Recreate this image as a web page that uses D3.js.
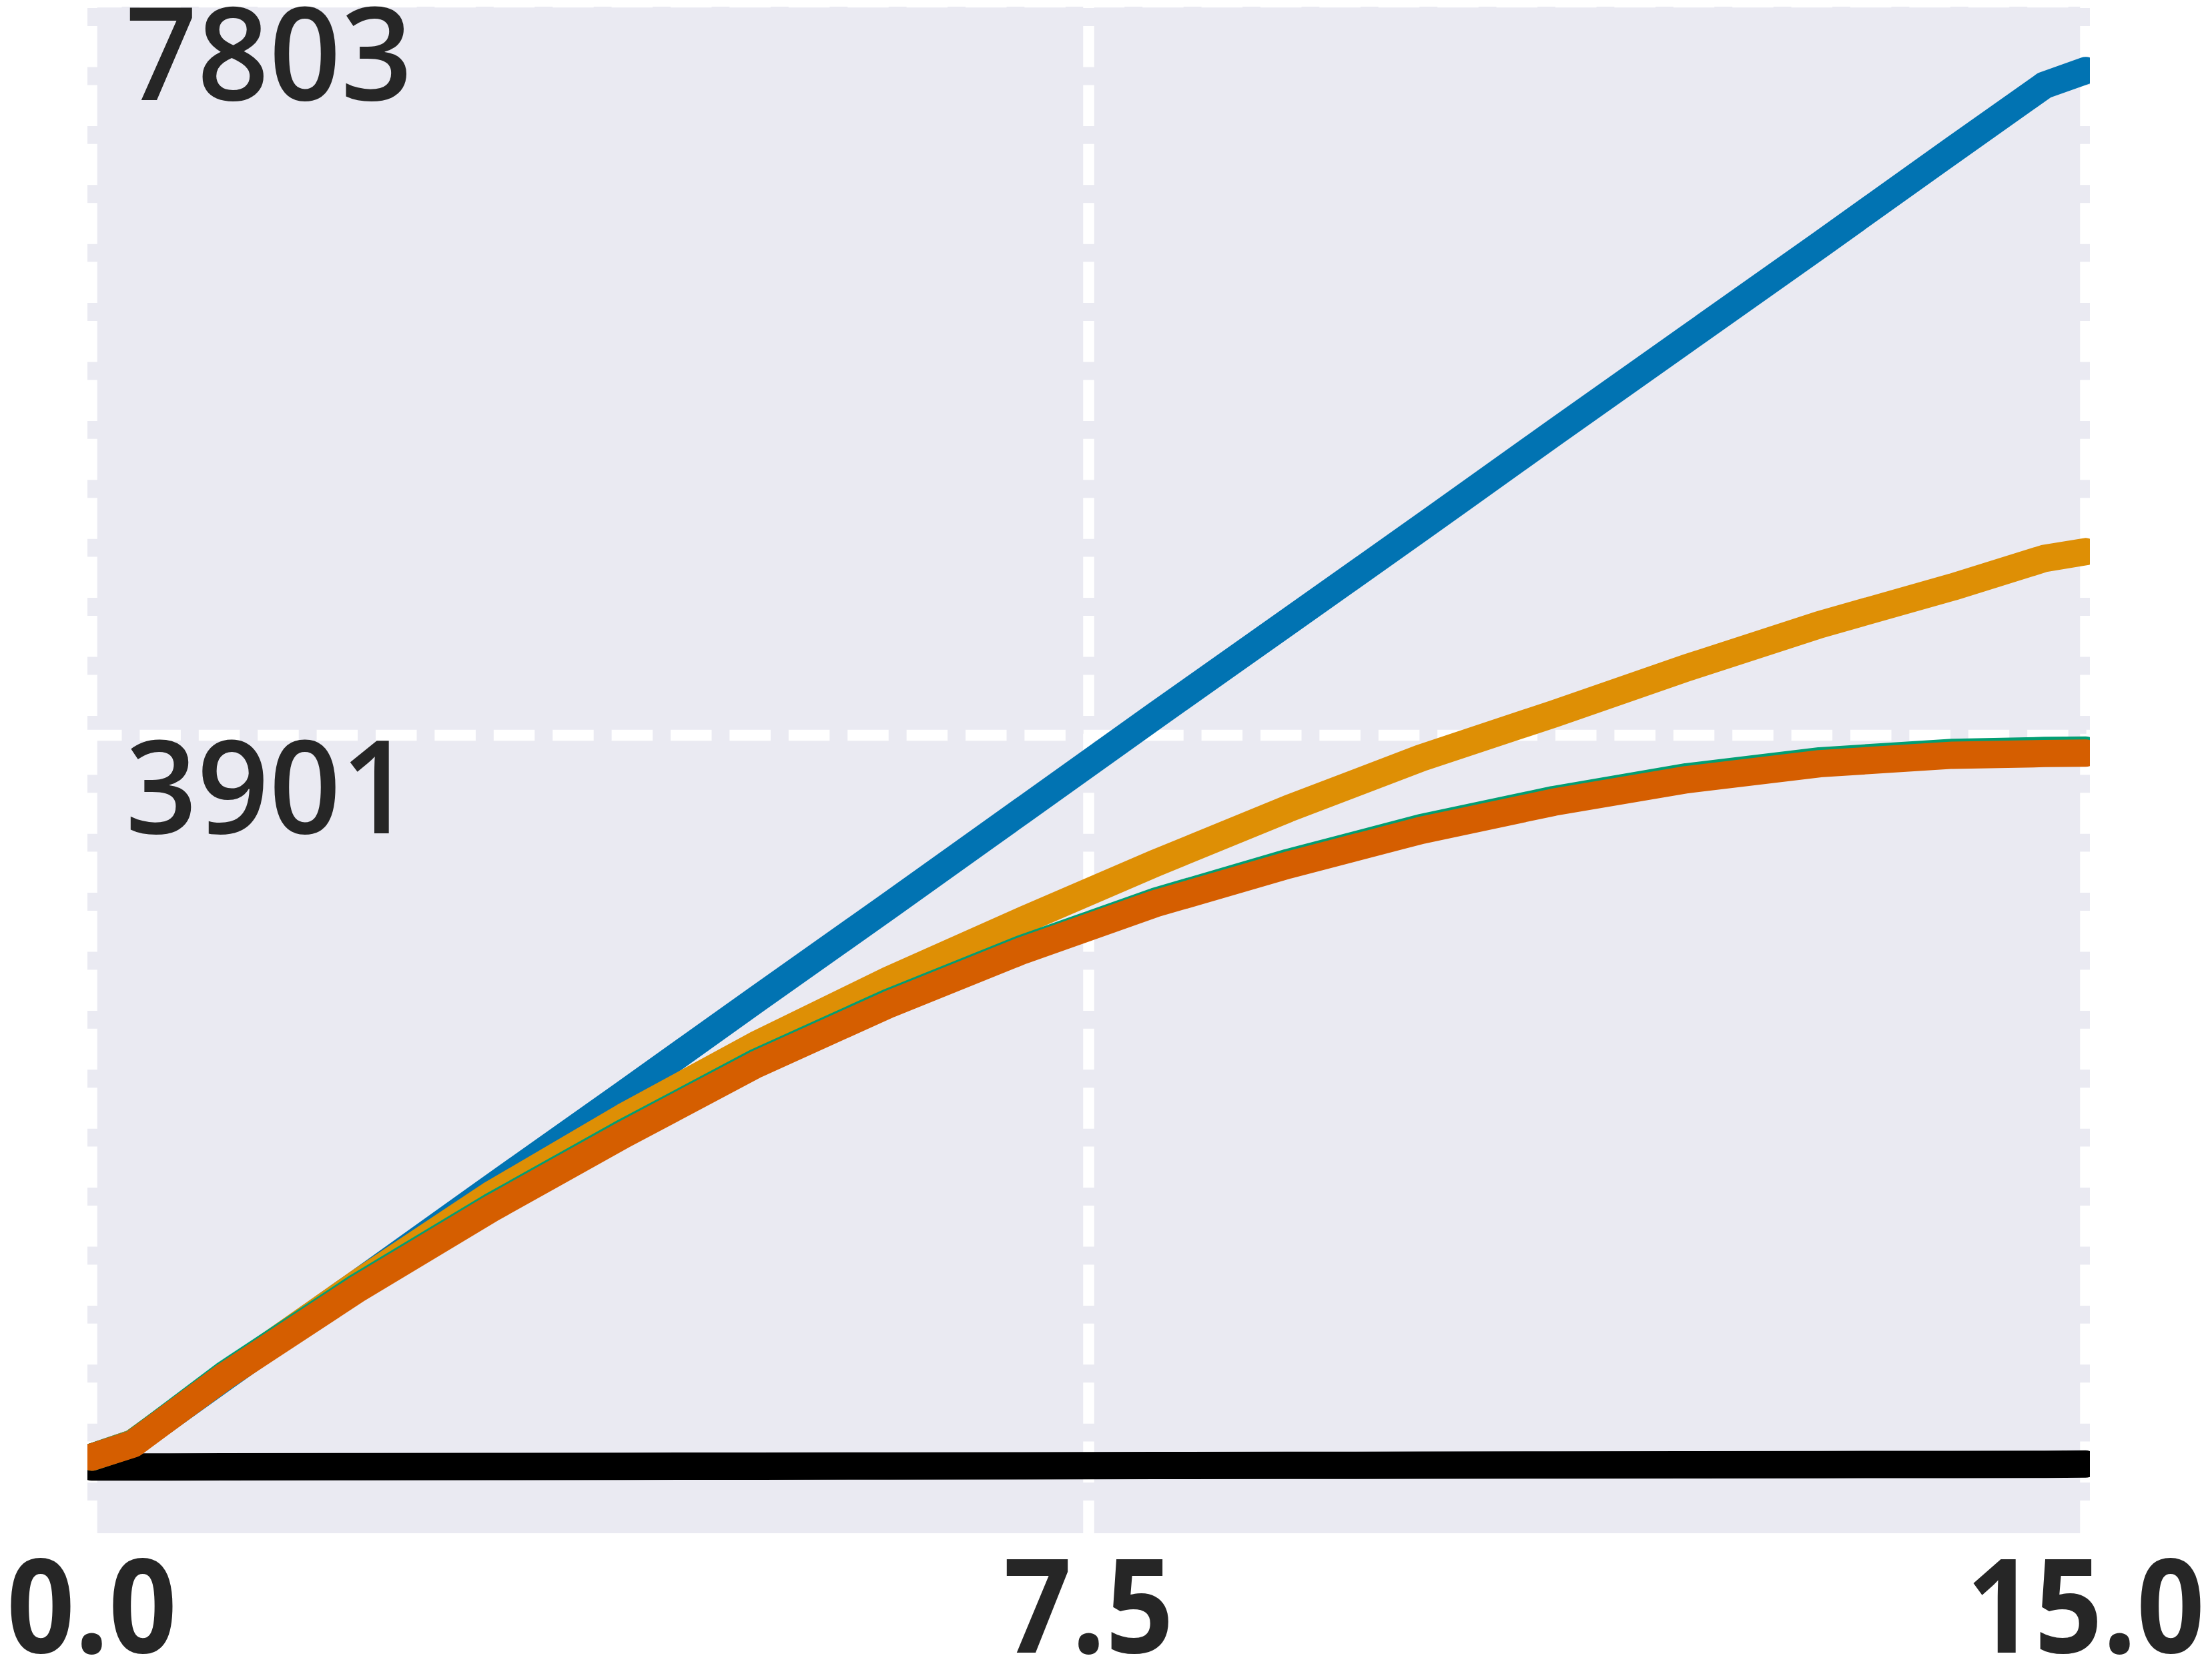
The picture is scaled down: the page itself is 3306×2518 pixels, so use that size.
<!DOCTYPE html>
<html><head><meta charset="utf-8">
<script src="https://cdn.jsdelivr.net/npm/d3@7"></script>
<style>
body{margin:0;background:#fff}
svg text{font-family:"Open Sans",sans-serif;fill:#262626}
</style>
</head><body>
<svg id="chart" width="3306" height="2518"></svg>
<script>
// ---- data ----
const xValues    = [0, 0.31, 1, 2, 3, 4, 5, 6, 7, 8, 9, 10, 11, 12, 13, 14, 14.69, 15];
const blueVals   = [60, 135, 485, 985, 1490, 1990, 2495, 2995, 3500, 4005, 4505, 5005, 5510, 6010, 6510, 7015, 7360, 7438];
const orangeVals = [60, 135, 490, 985, 1455, 1870, 2255, 2600, 2915, 3220, 3510, 3780, 4015, 4260, 4490, 4690, 4842, 4878];
const greenVals  = [60, 132, 500, 967, 1392, 1787, 2162, 2482, 2767, 3017, 3224, 3409, 3559, 3680, 3765, 3810, 3820, 3822];
const redVals    = [60, 130, 490, 955, 1380, 1775, 2150, 2470, 2755, 3005, 3210, 3395, 3545, 3665, 3750, 3795, 3804, 3806];
const blackVals  = [7, 7, 8, 9, 10, 11, 12, 13, 14, 15, 16, 17, 18, 19, 20, 21, 22, 23];
const seriesNames  = ["blue", "orange", "black", "green", "red"];
const seriesColors = ["#0173b2", "#de8f05", "#000000", "#029e73", "#d55e00"];
const seriesValues = [blueVals, orangeVals, blackVals, greenVals, redVals];
const xTicks = [0, 7.5, 15];
const xTickLabels = ["0.0", "7.5", "15.0"];
const yTicks = [3901, 7803];
const yTickLabels = ["3901", "7803"];

// ---- layout ----
const svg = d3.select("#chart");
const plot = {left: 131, right: 3132, top: 10, bottom: 2298};
const x = d3.scaleLinear().domain([0, 15]).range([137.5, 3125.5]);
const y = d3.scaleLinear().domain([-345, 7803]).range([plot.bottom, 3]);

svg.append("defs").append("clipPath").attr("id", "clip")
  .append("rect")
  .attr("x", plot.left).attr("y", plot.top)
  .attr("width", plot.right - plot.left).attr("height", plot.bottom - plot.top);

svg.append("rect")
  .attr("x", plot.left).attr("y", plot.top)
  .attr("width", plot.right - plot.left).attr("height", plot.bottom - plot.top)
  .attr("fill", "#eaeaf2");

const grid = svg.append("g").attr("clip-path", "url(#clip)");
grid.selectAll("line.vg").data(xTicks).join("line")
  .attr("class", "vg")
  .attr("x1", d => x(d)).attr("x2", d => x(d))
  .attr("y1", plot.top).attr("y2", plot.bottom)
  .attr("stroke", "#fff").attr("stroke-width", 16.5)
  .attr("stroke-dasharray", "61.5 26.9").attr("stroke-dashoffset", 59.4);
grid.selectAll("line.hg").data(yTicks).join("line")
  .attr("class", "hg")
  .attr("x1", plot.left).attr("x2", plot.right)
  .attr("y1", d => y(d)).attr("y2", d => y(d))
  .attr("stroke", "#fff").attr("stroke-width", 16.5)
  .attr("stroke-dasharray", "61.5 26.9").attr("stroke-dashoffset", 10);

const line = d3.line().x(d => x(d[0])).y(d => y(d[1]));
const lines = svg.append("g").attr("clip-path", "url(#clip)");
seriesValues.forEach((vals, i) => {
  lines.append("path")
    .datum(xValues.map((xv, j) => [xv, vals[j]]))
    .attr("d", line)
    .attr("fill", "none")
    .attr("stroke", seriesColors[i])
    .attr("stroke-width", 41)
    .attr("stroke-linecap", "round")
    .attr("stroke-linejoin", "round")
    .attr("class", "series-" + seriesNames[i]);
});

// y tick labels (inside the plot, below their gridline)
svg.append("g").selectAll("text").data(yTicks).join("text")
  .attr("transform", d => `translate(188,${y(d) + 147}) scale(0.97,1)`)
  .attr("font-size", 194)
  .attr("font-weight", 600)
  .attr("text-anchor", "start")
  .text((d, i) => yTickLabels[i]);

// x tick labels
svg.append("g").selectAll("text").data(xTicks).join("text")
  .attr("transform", d => `translate(${x(d)},${plot.bottom + 179}) scale(0.91,1)`)
  .attr("font-size", 196)
  .attr("font-weight", 700)
  .attr("text-anchor", "middle")
  .text((d, i) => xTickLabels[i]);
</script>
</body></html>
